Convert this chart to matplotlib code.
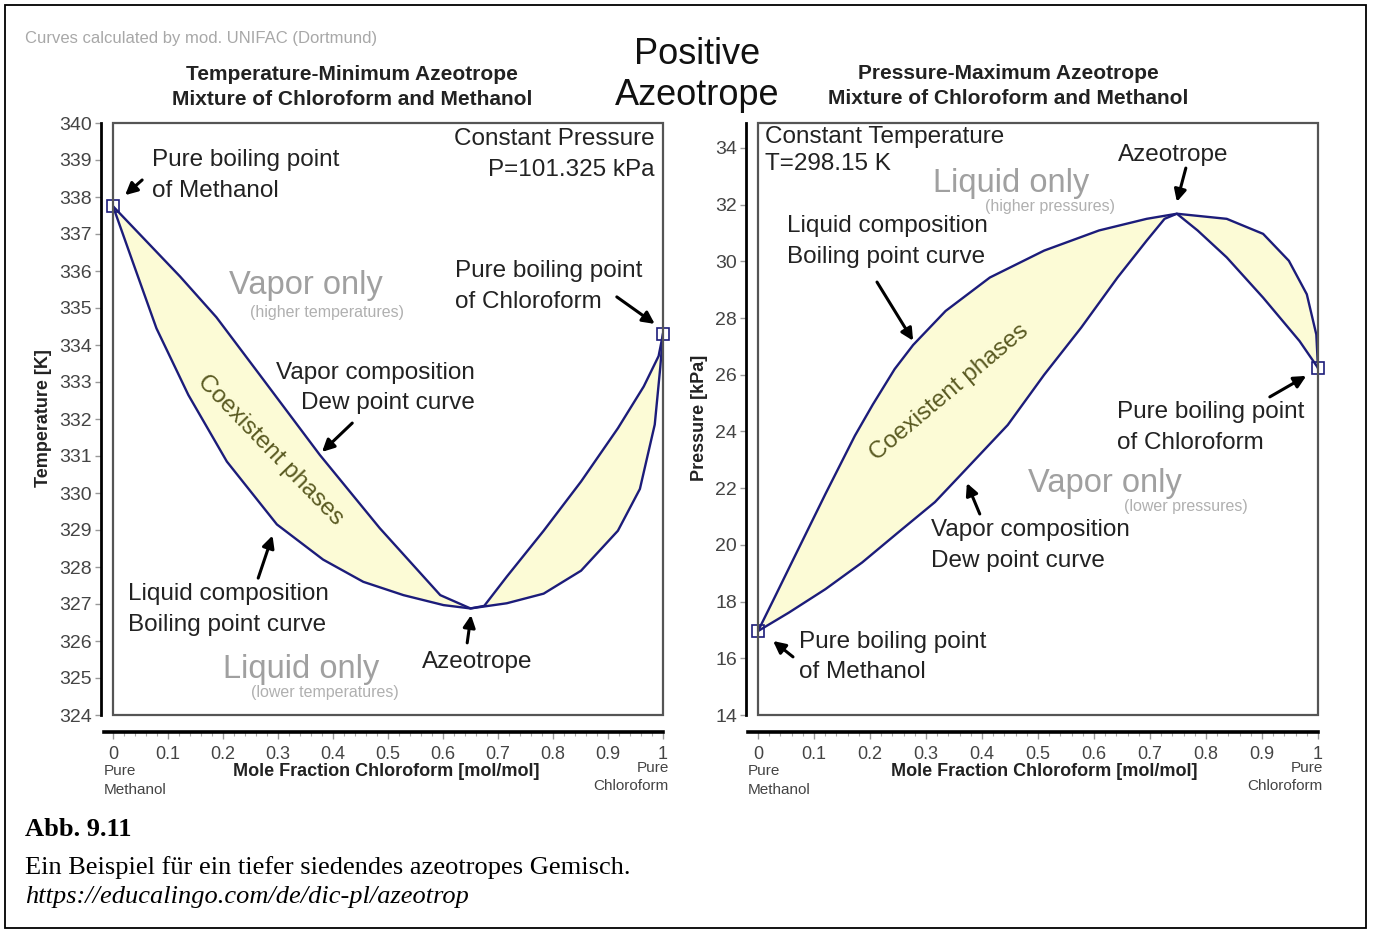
import numpy as np
import matplotlib
matplotlib.use("Agg")
import matplotlib.pyplot as plt
from matplotlib.patches import Rectangle
from matplotlib.ticker import MultipleLocator

W, H = 1373, 935

# left panel: T-x-y diagram at 101.325 kPa
liq_x_T = [0.0, 0.037, 0.079, 0.137, 0.207, 0.298, 0.382, 0.455, 0.528, 0.601,
           0.650, 0.716, 0.783, 0.851, 0.918, 0.958, 0.985, 0.995, 1.0]
liq_T = [337.75, 336.20, 334.45, 332.65, 330.85, 329.15, 328.20, 327.60, 327.24,
         326.97, 326.88, 327.02, 327.28, 327.90, 328.98, 330.11, 331.85, 333.39,
         334.30]
vap_x_T = [0.0, 0.122, 0.188, 0.267, 0.376, 0.485, 0.595, 0.650, 0.675, 0.716,
           0.783, 0.851, 0.918, 0.965, 0.992, 1.0]
vap_T = [337.75, 335.85, 334.75, 333.19, 331.03, 329.05, 327.24, 326.88, 326.95,
         327.74, 328.98, 330.31, 331.75, 332.88, 333.70, 334.30]

# right panel: P-x-y diagram at 298.15 K
liq_x_P = [0.0, 0.029, 0.062, 0.1205, 0.173, 0.205, 0.244, 0.277, 0.335, 0.414,
           0.511, 0.609, 0.694, 0.748, 0.837, 0.902, 0.948, 0.980, 0.997, 1.0]
liq_P = [16.96, 18.12, 19.45, 21.80, 23.85, 24.95, 26.20, 27.05, 28.25, 29.43,
         30.38, 31.09, 31.50, 31.68, 31.50, 30.97, 30.02, 28.84, 27.42, 26.24]
vap_x_P = [0.0, 0.055, 0.1205, 0.186, 0.251, 0.316, 0.3615, 0.446, 0.511, 0.577,
           0.642, 0.694, 0.726, 0.748, 0.785, 0.837, 0.902, 0.967, 1.0]
vap_P = [16.96, 17.61, 18.44, 19.38, 20.45, 21.51, 22.46, 24.23, 26.00, 27.66,
         29.43, 30.73, 31.50, 31.68, 31.09, 30.14, 28.72, 27.19, 26.24]

x_ticks = [0, 0.1, 0.2, 0.3, 0.4, 0.5, 0.6, 0.7, 0.8, 0.9, 1.0]
x_ticklabels = ["0", "0.1", "0.2", "0.3", "0.4", "0.5", "0.6", "0.7", "0.8", "0.9", "1"]
T_ticks = list(range(324, 341))
P_ticks = list(range(14, 35, 2))

NAVY = "#1c1c7a"
FILL = "#fcfbd6"
SANS = "Liberation Sans"
SERIF = "Liberation Serif"


def fx(px):
    return px / W


def fy(py):
    return 1 - py / H


def setup_axes(ax, ylim, yticks):
    ax.set_xlim(0, 1)
    ax.set_ylim(*ylim)
    for s in ["top", "right"]:
        ax.spines[s].set_visible(False)
    ax.spines["left"].set_position(("outward", 9))
    ax.spines["bottom"].set_position(("outward", 12))
    ax.spines["left"].set_linewidth(2.0)
    ax.spines["bottom"].set_linewidth(2.6)
    ax.spines["bottom"].set_bounds(-0.017, 1)
    ax.set_yticks(yticks)
    ax.set_xticks(x_ticks)
    ax.set_xticklabels(x_ticklabels)
    ax.xaxis.set_minor_locator(MultipleLocator(0.02))
    ax.tick_params(axis="y", direction="out", length=4, width=1, color="#999999",
                   labelsize=14, labelcolor="#444444", pad=2)
    ax.tick_params(axis="x", which="major", direction="out", length=5, width=1,
                   color="#999999", labelsize=13, labelcolor="#444444", pad=5)
    ax.tick_params(axis="x", which="minor", direction="out", length=3, width=0.8,
                   color="#aaaaaa")
    for lab in ax.get_xticklabels() + ax.get_yticklabels():
        lab.set_fontfamily(SANS)
    ax.add_patch(Rectangle((0, 0), 1, 1, transform=ax.transAxes, fill=False,
                           ec="#555555", lw=1.6, clip_on=False, zorder=6))


def arrow(ax, tail, tip):
    ax.annotate("", xy=tip, xytext=tail,
                arrowprops=dict(arrowstyle="-|>", color="black", lw=2.2,
                                mutation_scale=18, shrinkA=0, shrinkB=0))


def label(ax, x, y, s, ha="left", size=17.5, color="#222222", **kw):
    ax.text(x, y, s, ha=ha, va="center", fontsize=size, color=color,
            family=SANS, linespacing=1.48, **kw)


fig = plt.figure(figsize=(W / 100, H / 100), dpi=100)
axL = fig.add_axes([fx(113), fy(715), fx(663) - fx(113), fy(123) - fy(715)])
axR = fig.add_axes([fx(758), fy(715), fx(1318) - fx(758), fy(123) - fy(715)])

# --- left panel ---
setup_axes(axL, (324, 340), T_ticks)
axL.fill(np.r_[liq_x_T, vap_x_T[::-1]], np.r_[liq_T, vap_T[::-1]],
         color=FILL, lw=0, zorder=1)
axL.plot(liq_x_T, liq_T, color=NAVY, lw=1.7, zorder=3)
axL.plot(vap_x_T, vap_T, color=NAVY, lw=1.7, zorder=3)
axL.plot([liq_x_T[0], liq_x_T[-1]], [liq_T[0], liq_T[-1]], ls="none", marker="s",
         ms=9, mfc="none", mec=NAVY, mew=1.2, zorder=4, clip_on=False)

label(axL, 0.984, 339.15, "Constant Pressure\nP=101.325 kPa", ha="right")
label(axL, 0.071, 338.58, "Pure boiling point\nof Methanol")
label(axL, 0.351, 335.62, "Vapor only", ha="center", size=23.5, color="#a0a0a0")
label(axL, 0.390, 334.89, "(higher temperatures)", ha="center", size=11.5, color="#b0b0b0")
label(axL, 0.622, 335.58, "Pure boiling point\nof Chloroform")
label(axL, 0.658, 332.84, "Vapor composition\nDew point curve", ha="right")
label(axL, 0.285, 331.16, "Coexistent phases", ha="center", color="#5a5a22",
      rotation=-46, rotation_mode="anchor")
label(axL, 0.027, 326.85, "Liquid composition\nBoiling point curve")
label(axL, 0.342, 325.22, "Liquid only", ha="center", size=23.5, color="#a0a0a0")
label(axL, 0.385, 324.62, "(lower temperatures)", ha="center", size=11.5, color="#b0b0b0")
label(axL, 0.662, 325.43, "Azeotrope", ha="center")

arrow(axL, (0.053, 338.46), (0.022, 338.05))
arrow(axL, (0.916, 335.30), (0.985, 334.57))
arrow(axL, (0.435, 331.89), (0.380, 331.11))
arrow(axL, (0.264, 327.70), (0.290, 328.85))
arrow(axL, (0.644, 325.95), (0.651, 326.70))

# --- right panel ---
setup_axes(axR, (14, 34.88), P_ticks)
axR.fill(np.r_[liq_x_P, vap_x_P[::-1]], np.r_[liq_P, vap_P[::-1]],
         color=FILL, lw=0, zorder=1)
axR.plot(liq_x_P, liq_P, color=NAVY, lw=1.7, zorder=3)
axR.plot(vap_x_P, vap_P, color=NAVY, lw=1.7, zorder=3)
axR.plot([liq_x_P[0], liq_x_P[-1]], [liq_P[0], liq_P[-1]], ls="none", marker="s",
         ms=9, mfc="none", mec=NAVY, mew=1.2, zorder=4, clip_on=False)

label(axR, 0.0125, 34.39, "Constant Temperature")
label(axR, 0.0125, 33.42, "T=298.15 K")
label(axR, 0.741, 33.75, "Azeotrope", ha="center")
label(axR, 0.452, 32.73, "Liquid only", ha="center", size=23.5, color="#a0a0a0")
label(axR, 0.521, 31.95, "(higher pressures)", ha="center", size=11.5, color="#b0b0b0")
label(axR, 0.052, 30.70, "Liquid composition\nBoiling point curve")
label(axR, 0.341, 25.39, "Coexistent phases", ha="center", color="#5a5a22",
      rotation=40, rotation_mode="anchor")
label(axR, 0.641, 24.14, "Pure boiling point\nof Chloroform")
label(axR, 0.620, 22.18, "Vapor only", ha="center", size=23.5, color="#a0a0a0")
label(axR, 0.764, 21.34, "(lower pressures)", ha="center", size=11.5, color="#b0b0b0")
label(axR, 0.309, 19.98, "Vapor composition\nDew point curve")
label(axR, 0.073, 16.05, "Pure boiling point\nof Methanol")

arrow(axR, (0.764, 33.29), (0.748, 32.10))
arrow(axR, (0.2125, 29.27), (0.277, 27.20))
arrow(axR, (0.914, 25.22), (0.979, 25.96))
arrow(axR, (0.396, 21.09), (0.373, 22.18))
arrow(axR, (0.0625, 16.05), (0.027, 16.61))

# --- figure texts ---
fig.text(fx(25), fy(38), "Curves calculated by mod. UNIFAC (Dortmund)", ha="left",
         va="center", fontsize=12, color="#a8a8a8", family=SANS)
fig.text(fx(697), fy(75), "Positive\nAzeotrope", ha="center", va="center",
         fontsize=26, color="#111111", family=SANS, linespacing=1.25)
fig.text(fx(352), fy(87), "Temperature-Minimum Azeotrope\nMixture of Chloroform and Methanol",
         ha="center", va="center", fontsize=15, weight="bold", color="#222222",
         family=SANS, linespacing=1.35)
fig.text(fx(1008), fy(86), "Pressure-Maximum Azeotrope\nMixture of Chloroform and Methanol",
         ha="center", va="center", fontsize=15, weight="bold", color="#222222",
         family=SANS, linespacing=1.35)

for cx, lx, rx, ylab, yx in [(386, 104, 669, "Temperature [K]", 44),
                             (1044, 748, 1323, "Pressure [kPa]", 700)]:
    fig.text(fx(cx), fy(771), "Mole Fraction Chloroform [mol/mol]", ha="center",
             va="center", fontsize=13, weight="bold", color="#222222", family=SANS)
    fig.text(fx(lx), fy(780.5), "Pure\nMethanol", ha="left", va="center", fontsize=11,
             color="#444444", family=SANS, linespacing=1.4)
    fig.text(fx(rx), fy(777), "Pure\nChloroform", ha="right", va="center", fontsize=11,
             color="#444444", family=SANS, linespacing=1.4, multialignment="right")
    fig.text(fx(yx), fy(418), ylab, rotation=90, ha="center", va="center",
             fontsize=13, weight="bold", color="#222222", family=SANS)

fig.text(fx(25), fy(830), "Abb. 9.11", ha="left", va="center", fontsize=19,
         weight="bold", family=SERIF)
fig.text(fx(25), fy(868), "Ein Beispiel für ein tiefer siedendes azeotropes Gemisch.",
         ha="left", va="center", fontsize=19, family=SERIF)
fig.text(fx(25), fy(897), "https://educalingo.com/de/dic-pl/azeotrop", ha="left",
         va="center", fontsize=19, style="italic", family=SERIF)

fig.patches.append(Rectangle((fx(5), fy(928)), fx(1366) - fx(5), fy(5) - fy(928),
                             transform=fig.transFigure, fill=False, ec="black",
                             lw=1.3))

fig.savefig("out.png", dpi=100)
